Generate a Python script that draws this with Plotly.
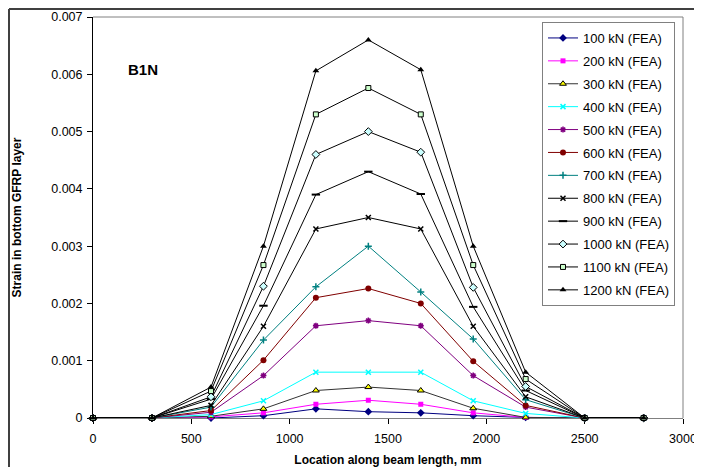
import plotly.graph_objects as go

locations = [0, 300, 600, 866.7, 1133.3, 1400, 1666.7, 1933.3, 2200, 2500, 2800]

series_names = ["100 kN (FEA)", "200 kN (FEA)", "300 kN (FEA)", "400 kN (FEA)",
                "500 kN (FEA)", "600 kN (FEA)", "700 kN (FEA)", "800 kN (FEA)",
                "900 kN (FEA)", "1000 kN (FEA)", "1100 kN (FEA)", "1200 kN (FEA)"]

s100 = [0, 0, 0.00000, 0.00004, 0.00016, 0.00011, 0.00009, 0.00004, 0.00001, 0, 0]
s200 = [0, 0, 0.00002, 0.00009, 0.00024, 0.00031, 0.00024, 0.00009, 0.00001, 0, 0]
s300 = [0, 0, 0.00003, 0.00016, 0.00048, 0.00054, 0.00048, 0.00017, 0.00001, 0, 0]
s400 = [0, 0, 0.00006, 0.00030, 0.00080, 0.00080, 0.00080, 0.00030, 0.00008, 0, 0]
s500 = [0, 0, 0.00010, 0.00074, 0.00161, 0.00170, 0.00161, 0.00074, 0.00019, 0, 0]
s600 = [0, 0, 0.00013, 0.00101, 0.00210, 0.00226, 0.00200, 0.00099, 0.00022, 0, 0]
s700 = [0, 0, 0.00019, 0.00136, 0.00229, 0.00300, 0.00220, 0.00138, 0.00032, 0, 0]
s800 = [0, 0, 0.00022, 0.00160, 0.00330, 0.00350, 0.00330, 0.00160, 0.00037, 0, 0]
s900 = [0, 0, 0.00033, 0.00196, 0.00390, 0.00430, 0.00391, 0.00194, 0.00048, 0, 0]
s1000 = [0, 0, 0.00037, 0.00230, 0.00460, 0.00500, 0.00464, 0.00228, 0.00055, 0, 0]
s1100 = [0, 0, 0.00047, 0.00267, 0.00530, 0.00576, 0.00530, 0.00267, 0.00068, 0, 0]
s1200 = [0, 0, 0.00054, 0.00300, 0.00606, 0.00660, 0.00608, 0.00300, 0.00080, 0, 0]

series_values = [s100, s200, s300, s400, s500, s600, s700, s800, s900, s1000, s1100, s1200]

styles = [
    dict(line="#000080", symbol="diamond", size=6, fill="#000080", mline="#000080", mw=0),
    dict(line="#FF00FF", symbol="square", size=5, fill="#FF00FF", mline="#FF00FF", mw=0),
    dict(line="#333333", symbol="triangle-up", size=6, fill="#FFFF00", mline="#000000", mw=1),
    dict(line="#00FFFF", symbol="x-thin-open", size=5, fill="#00FFFF", mline="#00FFFF", mw=1.5),
    dict(line="#800080", symbol="asterisk-open", size=5, fill="#800080", mline="#800080", mw=1.5),
    dict(line="#800000", symbol="circle", size=6, fill="#800000", mline="#800000", mw=0),
    dict(line="#008080", symbol="cross-thin-open", size=5, fill="#008080", mline="#008080", mw=1.5),
    dict(line="#000000", symbol="x-thin-open", size=5, fill="#000000", mline="#000000", mw=1.5),
    dict(line="#000000", symbol="line-ew-open", size=6, fill="#000000", mline="#000000", mw=2),
    dict(line="#000000", symbol="diamond", size=6, fill="#CCFFFF", mline="#000000", mw=1),
    dict(line="#000000", symbol="square", size=5, fill="#CCFFCC", mline="#000000", mw=1),
    dict(line="#000000", symbol="triangle-up", size=6, fill="#000000", mline="#000000", mw=0),
]

fig = go.Figure()
for i, (name, vals, st) in enumerate(zip(series_names, series_values, styles)):
    fig.add_trace(go.Scatter(
        x=locations, y=vals, name=name, mode="lines+markers",
        legendgroup="g%d" % i,
        line=dict(color=st["line"], width=1),
        marker=dict(symbol=st["symbol"], size=st["size"], color=st["fill"],
                    line=dict(color=st["mline"], width=st["mw"])),
        cliponaxis=False,
    ))

# the page places the figure 8 px in from the window's top-left corner
OFF = 8
W, H = 702 - OFF, 467 - OFF
L, R, T, B = 93 - OFF, 683 - OFF, 17 - OFF, 418 - OFF

def px(xp):
    return (xp - OFF - L) / (R - L)

def py(yp):
    return (B - (yp - OFF)) / (B - T)

font_family = "Liberation Sans, Arial, sans-serif"

fig.update_layout(
    width=W, height=H,
    margin=dict(l=L, r=W - R, t=T, b=H - B, autoexpand=False),
    paper_bgcolor="white", plot_bgcolor="white",
    font=dict(family=font_family, size=12, color="black"),
    showlegend=True,
    legend=dict(
        x=px(542), y=py(22), xanchor="left", yanchor="top",
        bgcolor="white", bordercolor="#808080", borderwidth=1,
        font=dict(size=13, family=font_family, color="black"),
        tracegroupgap=3, itemwidth=30,
    ),
    xaxis=dict(
        range=[0, 3000], dtick=500, tick0=0,
        showgrid=False, zeroline=False,
        showline=True, linecolor="#808080", linewidth=1,
        ticks="outside", ticklen=5, tickcolor="#000000",
        tickfont=dict(size=12.5), ticklabelstandoff=4,
        layer="below traces",
        title=dict(text="<b>Location along beam length, mm</b>", font=dict(size=12), standoff=11),
    ),
    yaxis=dict(
        range=[0, 0.007], dtick=0.001, tick0=0,
        showgrid=False, zeroline=False,
        showline=True, linecolor="#000000", linewidth=1,
        ticks="outside", ticklen=5, tickcolor="#000000",
        tickfont=dict(size=12.5), ticklabelstandoff=2,
        layer="below traces",
        title=dict(text="<b>Strain in bottom GFRP layer</b>", font=dict(size=12), standoff=27),
    ),
    annotations=[
        dict(text="<b>B1N</b>", x=px(126), y=py(70), xref="paper", yref="paper",
             xanchor="left", yanchor="middle", showarrow=False,
             font=dict(size=15, family=font_family, color="black")),
    ],
    shapes=[
        # plot area border (top and right, gray)
        dict(type="line", xref="paper", yref="paper", x0=0, x1=1, y0=1, y1=1,
             line=dict(color="#808080", width=1)),
        dict(type="line", xref="paper", yref="paper", x0=1, x1=1, y0=0, y1=1,
             line=dict(color="#808080", width=1)),
        # outer chart frame (top and left edges visible)
        dict(type="line", xref="paper", yref="paper",
             x0=(1 - L) / (R - L), x1=(W - L) / (R - L), y0=(B - 1) / (B - T), y1=(B - 1) / (B - T),
             line=dict(color="#404040", width=2)),
        dict(type="line", xref="paper", yref="paper",
             x0=(1 - L) / (R - L), x1=(1 - L) / (R - L), y0=(B - 1) / (B - T), y1=(B - H) / (B - T),
             line=dict(color="#404040", width=2)),
    ],
)

fig.write_html("out.html")
